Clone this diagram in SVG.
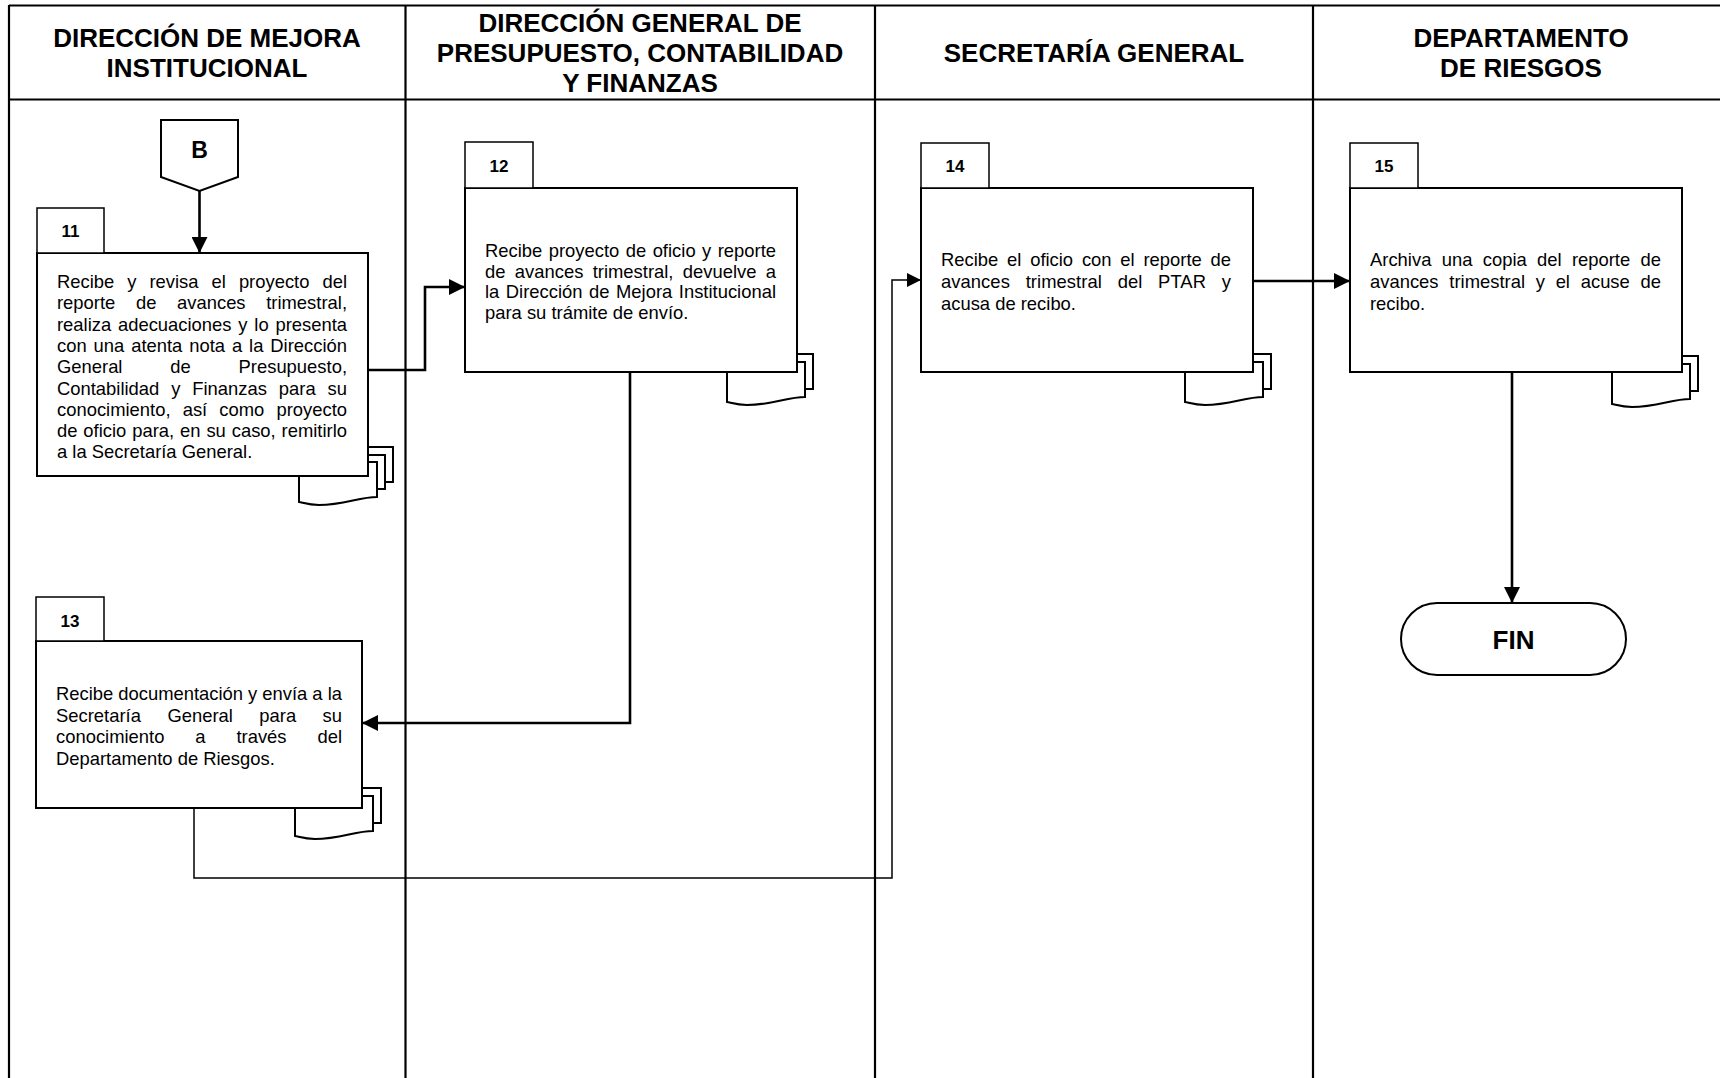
<svg xmlns="http://www.w3.org/2000/svg" xmlns:xlink="http://www.w3.org/1999/xlink" width="1720" height="1078" viewBox="0 0 1720 1078">
<style>
.lane{stroke:#000;stroke-width:2.2;fill:none}
.box{fill:#fff;stroke:#000;stroke-width:2}
.tab{fill:#fff;stroke:#000;stroke-width:1.5}
.doc{fill:#fff;stroke:#000;stroke-width:2}
.hd{font-family:"Liberation Sans",Arial,sans-serif;font-weight:bold;font-size:26px;text-anchor:middle;fill:#000}
.tx{font-family:"Liberation Sans",Arial,sans-serif;font-size:18.4px;fill:#000}
.num{font-family:"Liberation Sans",Arial,sans-serif;font-weight:bold;font-size:17px;text-anchor:middle;fill:#000}
.con{stroke:#000;stroke-width:2.6;fill:none}
.thin{stroke-width:1.5}
</style>
<defs>
<marker id="arr" markerUnits="userSpaceOnUse" markerWidth="16" markerHeight="16" refX="16" refY="8" orient="auto">
<path d="M0,0 L16,8 L0,16 Z" fill="#000"/>
</marker>
<marker id="arrs" markerUnits="userSpaceOnUse" markerWidth="14" markerHeight="14" refX="14" refY="7" orient="auto">
<path d="M0,0 L14,7 L0,14 Z" fill="#000"/>
</marker>
<g id="doc2">
<rect class="doc" x="8" y="-8" width="78" height="35"/>
<path class="doc" d="M0,0 H78 V35 C60,35 45,43 20,43 C10,43 5,41 0,40 Z"/>
</g>
<g id="doc3">
<rect class="doc" x="16" y="-15" width="78" height="35"/>
<rect class="doc" x="8" y="-7" width="78" height="34"/>
<path class="doc" d="M0,0 H78 V35 C60,35 45,43 20,43 C10,43 5,41 0,40 Z"/>
</g>
</defs>
<rect x="0" y="0" width="1720" height="1078" fill="#fff"/>
<g id="lanes">
<line class="lane" x1="9" y1="5.5" x2="1720" y2="5.5"/>
<line class="lane" x1="9" y1="5" x2="9" y2="1078"/>
<line class="lane" x1="9" y1="99.5" x2="1720" y2="99.5"/>
<line class="lane" x1="405.5" y1="5" x2="405.5" y2="1078"/>
<line class="lane" x1="875" y1="5" x2="875" y2="1078"/>
<line class="lane" x1="1313" y1="5" x2="1313" y2="1078"/>
<text class="hd" x="207" y="46.7">DIRECCIÓN DE MEJORA</text>
<text class="hd" x="207" y="76.7">INSTITUCIONAL</text>
<text class="hd" x="640" y="31.7">DIRECCIÓN GENERAL DE</text>
<text class="hd" x="640" y="61.7">PRESUPUESTO, CONTABILIDAD</text>
<text class="hd" x="640" y="91.7">Y FINANZAS</text>
<text class="hd" x="1094" y="61.7">SECRETARÍA GENERAL</text>
<text class="hd" x="1521" y="46.7">DEPARTAMENTO</text>
<text class="hd" x="1521" y="76.7">DE RIESGOS</text>
</g>
<g id="nodeB">
<path class="box" d="M161,120 H238 V177 L199.5,191 L161,177 Z"/>
<text x="199.5" y="158" font-family="Liberation Sans, Arial, sans-serif" font-weight="bold" font-size="23" text-anchor="middle">B</text>
</g>
<g id="node11">
<use xlink:href="#doc3" href="#doc3" transform="translate(299,462)"/>
<rect class="box" x="37" y="253" width="331" height="223"/>
<rect class="tab" x="37" y="208" width="67" height="45"/>
<text class="num" x="70.5" y="237">11</text>
<text class="tx" x="57" y="288" word-spacing="7.9" textLength="290" lengthAdjust="spacing">Recibe y revisa el proyecto del</text>
<text class="tx" x="57" y="309.3" word-spacing="15.5" textLength="290" lengthAdjust="spacing">reporte de avances trimestral,</text>
<text class="tx" x="57" y="330.6" word-spacing="1.7" textLength="290" lengthAdjust="spacing">realiza adecuaciones y lo presenta</text>
<text class="tx" x="57" y="351.9" word-spacing="1.8" textLength="290" lengthAdjust="spacing">con una atenta nota a la Dirección</text>
<text class="tx" x="57" y="373.2" word-spacing="42.7" textLength="290" lengthAdjust="spacing">General de Presupuesto,</text>
<text class="tx" x="57" y="394.5" word-spacing="6.8" textLength="290" lengthAdjust="spacing">Contabilidad y Finanzas para su</text>
<text class="tx" x="57" y="415.8" word-spacing="7" textLength="290" lengthAdjust="spacing">conocimiento, así como proyecto</text>
<text class="tx" x="57" y="437.1" word-spacing="0.8" textLength="290" lengthAdjust="spacing">de oficio para, en su caso, remitirlo</text>
<text class="tx" x="57" y="458.4">a la Secretaría General.</text>
</g>
<g id="node12">
<use xlink:href="#doc2" href="#doc2" transform="translate(727,362)"/>
<rect class="box" x="465" y="188" width="332" height="184"/>
<rect class="tab" x="465" y="142" width="68" height="46"/>
<text class="num" x="499" y="172">12</text>
<text class="tx" x="485" y="257" word-spacing="1.3" textLength="291" lengthAdjust="spacing">Recibe proyecto de oficio y reporte</text>
<text class="tx" x="485" y="277.7" word-spacing="4.2" textLength="291" lengthAdjust="spacing">de avances trimestral, devuelve a</text>
<text class="tx" x="485" y="298.4" word-spacing="1.4" textLength="291" lengthAdjust="spacing">la Dirección de Mejora Institucional</text>
<text class="tx" x="485" y="319">para su trámite de envío.</text>
</g>
<g id="node13">
<use xlink:href="#doc2" href="#doc2" transform="translate(295,796)"/>
<rect class="box" x="36" y="641" width="326" height="167"/>
<rect class="tab" x="36" y="597" width="68" height="44"/>
<text class="num" x="70" y="627">13</text>
<text class="tx" x="56" y="700" textLength="286" lengthAdjust="spacing">Recibe documentación y envía a la</text>
<text class="tx" x="56" y="721.7" word-spacing="21.3" textLength="286" lengthAdjust="spacing">Secretaría General para su</text>
<text class="tx" x="56" y="743.4" word-spacing="25.8" textLength="286" lengthAdjust="spacing">conocimiento a través del</text>
<text class="tx" x="56" y="765">Departamento de Riesgos.</text>
</g>
<g id="node14">
<use xlink:href="#doc2" href="#doc2" transform="translate(1185,362)"/>
<rect class="box" x="921" y="188" width="332" height="184"/>
<rect class="tab" x="921" y="143" width="68" height="45"/>
<text class="num" x="955" y="172">14</text>
<text class="tx" x="941" y="265.5" word-spacing="3.7" textLength="290" lengthAdjust="spacing">Recibe el oficio con el reporte de</text>
<text class="tx" x="941" y="287.5" word-spacing="10.6" textLength="290" lengthAdjust="spacing">avances trimestral del PTAR y</text>
<text class="tx" x="941" y="309.5">acusa de recibo.</text>
</g>
<g id="node15">
<use xlink:href="#doc2" href="#doc2" transform="translate(1612,364)"/>
<rect class="box" x="1350" y="188" width="332" height="184"/>
<rect class="tab" x="1350" y="143" width="68" height="45"/>
<text class="num" x="1384" y="172">15</text>
<text class="tx" x="1370" y="265.5" word-spacing="5.2" textLength="291" lengthAdjust="spacing">Archiva una copia del reporte de</text>
<text class="tx" x="1370" y="287.5" word-spacing="5.6" textLength="291" lengthAdjust="spacing">avances trimestral y el acuse de</text>
<text class="tx" x="1370" y="309.5">recibo.</text>
</g>
<g id="nodeFIN">
<rect class="box" x="1401" y="603" width="225" height="72" rx="36" ry="36"/>
<text x="1513.5" y="649" font-family="Liberation Sans, Arial, sans-serif" font-weight="bold" font-size="26" text-anchor="middle">FIN</text>
</g>
<g id="connectors">
<path class="con" d="M199.5,191 V253" marker-end="url(#arr)"/>
<path class="con" d="M368,370 H425 V287 H465" marker-end="url(#arr)"/>
<path class="con" d="M630,372 V723 H362" marker-end="url(#arr)"/>
<path class="con thin" d="M194,808 V878 H892 V280 H921" marker-end="url(#arrs)"/>
<path class="con" d="M1253,281 H1350" marker-end="url(#arr)"/>
<path class="con" d="M1512,372 V603" marker-end="url(#arr)"/>
</g>
</svg>
